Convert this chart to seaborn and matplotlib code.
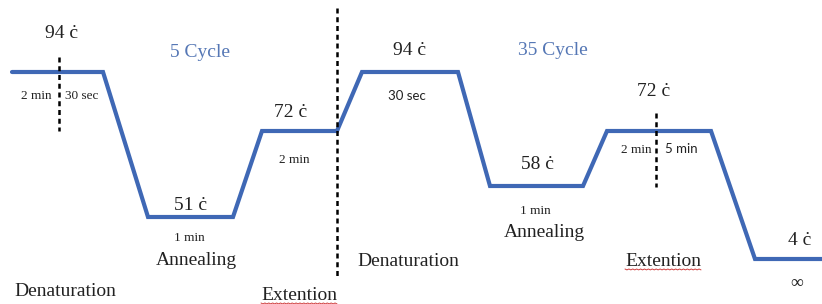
import numpy as np
import pandas as pd
import matplotlib
matplotlib.use("Agg")
import matplotlib.pyplot as plt
import seaborn as sns

# ---- PCR temperature profile (drawn in picture units, y grows downward) ----
profile_x = [12, 103, 148, 233, 262, 337, 362, 458, 490, 583, 607, 711, 755, 822]
profile_y = [72, 72, 217, 217, 131, 131, 72, 72, 186, 186, 131, 131, 259, 259]

# dashed separators: x, top, bottom
sep_x = [59, 337, 656]
sep_top = [57, 8, 113]
sep_bottom = [131, 278, 187]

# big step / temperature labels (serif, 14pt)
temp_labels = ["94 ċ", "51 ċ", "72 ċ", "94 ċ", "58 ċ", "72 ċ", "4 ċ"]
temp_x = [62, 191, 291, 410, 537, 654, 800]
temp_y = [38, 210, 117, 55, 169, 96, 245]

step_labels = ["Annealing", "Denaturation", "Extention",
               "Denaturation", "Annealing", "Extention"]
step_x = [196, 65, 299, 408, 544, 663]
step_y = [265, 296, 300, 266, 237, 266]

# small duration labels
time_labels = ["2 min", "30 sec", "1 min", "2 min", "30 sec", "1 min", "2 min", "5 min", "∞"]
time_x = [36, 82, 189, 294, 407, 535, 636, 681, 797]
time_y = [99, 99, 241, 163, 100, 214, 153, 153, 288]
time_size = [9.5, 9.5, 9.5, 9.5, 9.5, 9.5, 9.5, 9.5, 13]
time_sans = [False, False, False, False, True, False, False, True, False]

cycle_labels = ["5 Cycle", "35 Cycle"]
cycle_x = [200, 553]
cycle_y = [57, 55]

line_blue = "#3f68b5"
text_col = "#222222"

sns.set_theme(style="white")
plt.rcParams["font.family"] = ["Liberation Serif", "DejaVu Serif"]

fig = plt.figure(figsize=(8.22, 3.04), dpi=100)
ax = fig.add_axes([0, 0, 1, 1])

df = pd.DataFrame({"x": profile_x, "y": profile_y})
sns.lineplot(data=df, x="x", y="y", sort=False, color=line_blue,
             linewidth=3.0, ax=ax, solid_joinstyle="miter")

for x, t, b in zip(sep_x, sep_top, sep_bottom):
    ax.plot([x, x], [t, b], color="black", linewidth=1.8,
            linestyle=(0, (2.0, 1.5)))

for s, x, y in zip(temp_labels, temp_x, temp_y):
    ax.text(x, y, s, ha="center", va="baseline", fontsize=14, color=text_col)

for s, x, y in zip(step_labels, step_x, step_y):
    ax.text(x, y, s, ha="center", va="baseline", fontsize=14, color=text_col)
    if s == "Extention":
        # red spell-check squiggle under the word
        w = 38
        xs = np.linspace(x - w, x + w, 40)
        ys = y + 3 + 0.9 * (np.arange(40) % 2)
        ax.plot(xs, ys, color="#d04040", linewidth=0.7)

for s, x, y, fs, sans in zip(time_labels, time_x, time_y, time_size, time_sans):
    fam = ["Lato", "DejaVu Sans"] if sans else ["Liberation Serif", "DejaVu Serif"]
    ax.text(x, y, s, ha="center", va="baseline", fontsize=fs,
            color=text_col, family=fam)

for s, x, y in zip(cycle_labels, cycle_x, cycle_y):
    ax.text(x, y, s, ha="center", va="baseline", fontsize=14, color="#5577b5")

ax.set_xlim(0, 822)
ax.set_ylim(304, 0)
ax.set_xlabel("")
ax.set_ylabel("")
ax.axis("off")

fig.savefig("out.png", dpi=100)
